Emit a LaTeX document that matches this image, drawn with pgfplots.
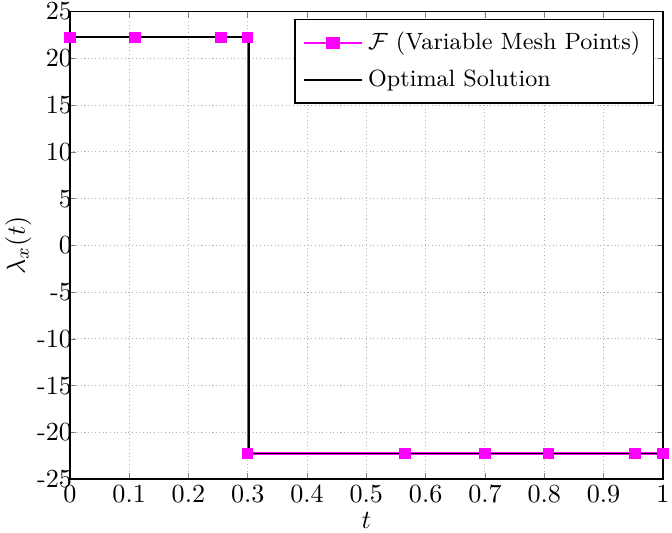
\documentclass[border=0pt]{standalone}
\usepackage{pgfplots}
\pgfplotsset{compat=1.18}
\definecolor{mag}{RGB}{255,0,255}
\begin{document}
\begin{tikzpicture}
\begin{axis}[
    width=227pt, height=179pt, scale only axis,
    xmin=0, xmax=1, ymin=-25, ymax=25,
    xtick={0,0.1,0.2,0.3,0.4,0.5,0.6,0.7,0.8,0.9,1},
    xticklabels={0,0.1,0.2,0.3,0.4,0.5,0.6,0.7,0.8,0.9,1},
    ytick={-25,-20,-15,-10,-5,0,5,10,15,20,25},
    yticklabels={-25,-20,-15,-10,-5,0,5,10,15,20,25},
    tick align=inside, major tick length=2.3pt,
    xtick pos=both, ytick pos=both,
    grid=major,
    grid style={densely dotted, gray!60, line width=0.4pt},
    axis line style={line width=0.6pt},
    xticklabel style={inner sep=1pt, yshift=-1pt},
    yticklabel style={xshift=2pt, inner sep=1pt},
    xlabel={$t$}, ylabel={$\lambda_x(t)$},
    xlabel style={inner sep=1.5pt, yshift=-1pt},
    ylabel style={inner sep=2pt, yshift=-1pt},
    legend style={at={(0.985,0.985)}, anchor=north east, draw=black,
        font=\small, line width=0.5pt, row sep=2pt, inner sep=3pt,
        cells={anchor=west}},
    legend cell align=left,
    legend image post style={xscale=1.3},
]
\addplot[mag, line width=0.8pt, mark=square*, mark size=1.8pt,
    mark options={fill=mag, draw=mag}] coordinates {
    (0,22.25) (0.11,22.25) (0.255,22.25) (0.3,22.25) (0.3,-22.25)
    (0.565,-22.25) (0.7,-22.25) (0.807,-22.25) (0.953,-22.25) (1,-22.25)
};
\addlegendentry{$\mathcal{F}$ (Variable Mesh Points)}
\addplot[black, line width=0.7pt] coordinates {
    (0,22.25) (0.302,22.25) (0.302,-22.25) (1,-22.25)
};
\addlegendentry{Optimal Solution}
\addplot[forget plot, only marks, mark=square*, mark size=1.8pt,
    mark options={fill=mag, draw=mag}] coordinates {
    (0,22.25) (0.11,22.25) (0.255,22.25) (0.3,22.25) (0.3,-22.25)
    (0.565,-22.25) (0.7,-22.25) (0.807,-22.25) (0.953,-22.25) (1,-22.25)
};
\end{axis}
\end{tikzpicture}
\end{document}
